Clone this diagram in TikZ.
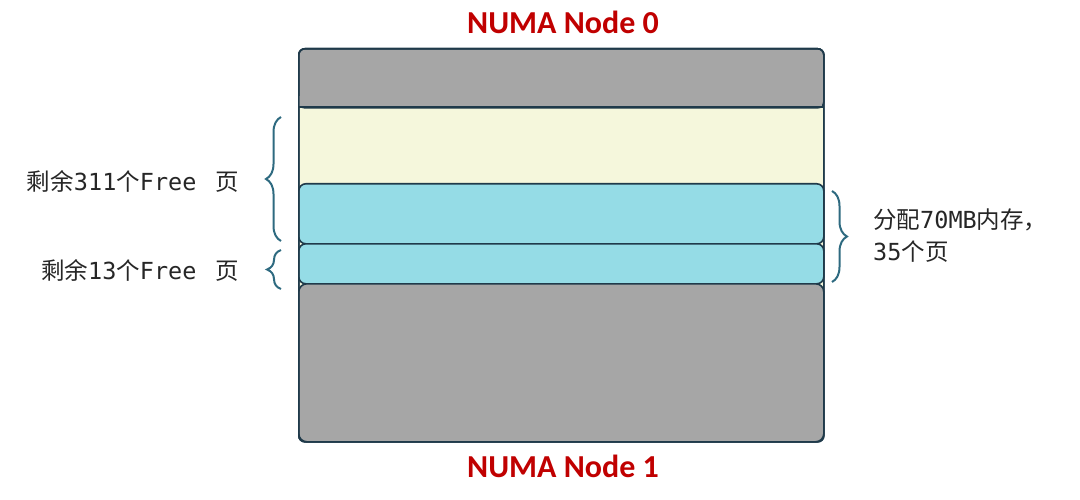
\documentclass[tikz,border=0pt]{standalone}
\usepackage{fontspec}
\usetikzlibrary{decorations.pathreplacing}
\newfontfamily\cjk{Noto Sans CJK SC}
\newfontfamily\mono{DejaVu Sans Mono}
\newfontfamily\titlefont{Carlito}
\definecolor{edge}{HTML}{1F3A4A}
\definecolor{graybg}{HTML}{A6A6A6}
\definecolor{cream}{HTML}{F5F7DC}
\definecolor{cyanbg}{HTML}{95DCE6}
\definecolor{bracecol}{HTML}{2E6A80}
\definecolor{titlered}{HTML}{C00000}
\newcommand{\cj}[1]{{\cjk #1}}
\newcommand{\mn}[1]{{\mono #1}}
\begin{document}
\begin{tikzpicture}[x=1pt,y=-1pt,
  band/.style={draw=edge,line width=1.6pt,inner sep=0pt,anchor=north west},
  titletext/.style={font=\titlefont\bfseries\fontsize{32}{36}\selectfont,text=titlered},
  label/.style={font=\fontsize{23.5}{32}\selectfont,text=black!85,inner sep=0pt},
  bracestyle/.style={draw=bracecol,line width=2pt,decorate,decoration={brace,amplitude=15pt}}]
\useasboundingbox (0,0) rectangle (1080,500);
% outer frame with cream background
\node[band,fill=cream,rounded corners=6pt,minimum width=525pt,minimum height=393pt] (frame) at (298,48) {};
% top gray
\node[band,fill=graybg,rounded corners=6pt,minimum width=525pt,minimum height=59pt] (top) at (298,48) {};
\fill[graybg] (299,96) rectangle (822,106);
\draw[edge,line width=1.6pt] (298,107) -- (823,107);
% cyan bands
\node[band,fill=cyanbg,rounded corners=7pt,minimum width=525pt,minimum height=60pt] (alloc1) at (298,183) {};
\node[band,fill=cyanbg,rounded corners=7pt,minimum width=525pt,minimum height=40pt] (alloc2) at (298,243) {};
% bottom gray
\node[band,fill=graybg,rounded corners=8pt,minimum width=525pt,minimum height=158pt] (bottom) at (298,283) {};
% redraw outer frame
\node[band,rounded corners=6pt,minimum width=525pt,minimum height=393pt] (frame2) at (298,48) {};
% titles
\node[titletext] (t0) at (563,22) {NUMA Node 0};
\node[titletext] (t1) at (563,466) {NUMA Node 1};
% braces
\coordinate (b1a) at (281,241);
\coordinate (b1b) at (281,117);
\coordinate (b2a) at (281,289);
\coordinate (b2b) at (281,250);
\coordinate (b3a) at (832,191);
\coordinate (b3b) at (832,282);
\draw[bracestyle] (b1a) -- (b1b);
\draw[bracestyle,decoration={brace,amplitude=14pt}] (b2a) -- (b2b);
\draw[bracestyle] (b3a) -- (b3b);
% labels
\node[label,anchor=east] (l1) at (239,181) {\cj{剩余}\mn{311}\cj{个}\mn{Free}\hspace{0.8em}\cj{页}};
\node[label,anchor=east] (l2) at (239,270) {\cj{剩余}\mn{13}\cj{个}\mn{Free}\hspace{0.8em}\cj{页}};
\node[label,anchor=west,align=left] (l3) at (873,236) {\cj{分配}\mn{70MB}\cj{内存，}\\\mn{35}\cj{个页}};
\end{tikzpicture}
\end{document}
